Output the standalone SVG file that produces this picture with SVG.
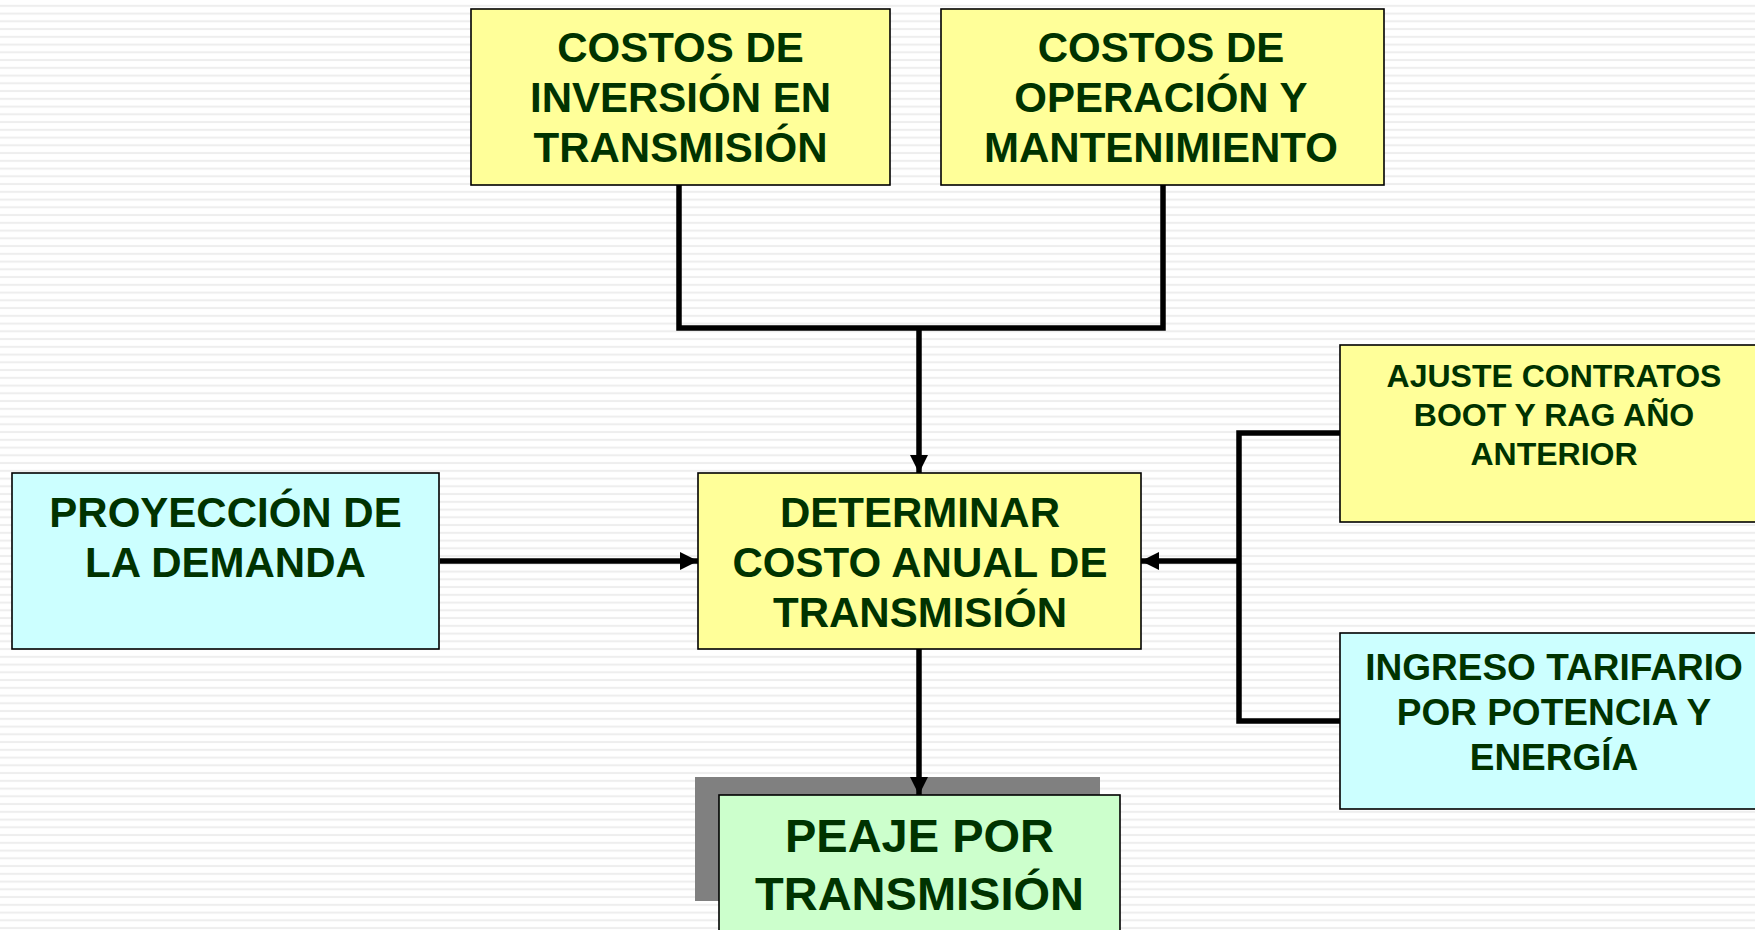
<svg xmlns="http://www.w3.org/2000/svg" width="1755" height="930" viewBox="0 0 1755 930">
<defs>
<pattern id="stripes" x="0" y="0" width="20" height="7.75" patternUnits="userSpaceOnUse">
<rect x="0" y="0" width="20" height="7.75" fill="#ffffff"/>
<rect x="0" y="4.8" width="20" height="2" fill="#eeeeee"/>
</pattern>
<marker id="arr" viewBox="0 0 10 10" refX="10" refY="5" markerUnits="userSpaceOnUse" markerWidth="19" markerHeight="18" orient="auto">
<path d="M0,0 L10,5 L0,10 z" fill="#000"/>
</marker>
<style>
.box{stroke:#000;stroke-width:1.6}
.y{fill:#ffff99}
.c{fill:#ccffff}
.g{fill:#ccffcc}
.t{font-family:"Liberation Sans",Arial,sans-serif;font-weight:bold;fill:#003300;text-anchor:middle}
.con{fill:none;stroke:#000;stroke-width:5.5}
</style>
</defs>
<rect x="0" y="0" width="1755" height="930" fill="url(#stripes)"/>

<g id="node-inversion">
<rect class="box y" x="471" y="9" width="419" height="176"/>
<text class="t" font-size="42" x="680.5" y="62">COSTOS DE</text>
<text class="t" font-size="42" x="680.5" y="112">INVERSIÓN EN</text>
<text class="t" font-size="42" x="680.5" y="162">TRANSMISIÓN</text>
</g>

<g id="node-operacion">
<rect class="box y" x="941" y="9" width="443" height="176"/>
<text class="t" font-size="42" x="1161" y="62">COSTOS DE</text>
<text class="t" font-size="42" x="1161" y="112">OPERACIÓN Y</text>
<text class="t" font-size="42" x="1161" y="162">MANTENIMIENTO</text>
</g>

<g id="node-demanda">
<rect class="box c" x="12" y="473" width="427" height="176"/>
<text class="t" font-size="42" x="225.5" y="527">PROYECCIÓN DE</text>
<text class="t" font-size="42" x="225.5" y="577">LA DEMANDA</text>
</g>

<g id="node-determinar">
<rect class="box y" x="698" y="473" width="443" height="176"/>
<text class="t" font-size="42" x="920" y="527">DETERMINAR</text>
<text class="t" font-size="42" x="920" y="577">COSTO ANUAL DE</text>
<text class="t" font-size="42" x="920" y="627">TRANSMISIÓN</text>
</g>

<g id="node-ajuste">
<rect class="box y" x="1340" y="345" width="430" height="177"/>
<text class="t" font-size="32" x="1554" y="387">AJUSTE CONTRATOS</text>
<text class="t" font-size="32" x="1554" y="426">BOOT Y RAG AÑO</text>
<text class="t" font-size="32" x="1554" y="465">ANTERIOR</text>
</g>

<g id="node-ingreso">
<rect class="box c" x="1340" y="633" width="430" height="176"/>
<text class="t" font-size="37" x="1554" y="680">INGRESO TARIFARIO</text>
<text class="t" font-size="37" x="1554" y="725">POR POTENCIA Y</text>
<text class="t" font-size="37" x="1554" y="770">ENERGÍA</text>
</g>

<g id="node-peaje">
<rect x="695" y="777" width="405" height="124" fill="#808080"/>
<rect class="box g" x="719" y="795" width="401" height="150"/>
<text class="t" font-size="47" x="919.5" y="852">PEAJE POR</text>
<text class="t" font-size="47" x="919.5" y="910">TRANSMISIÓN</text>
</g>

<g id="connectors">
<polyline class="con" points="679,185 679,328 1163,328 1163,185"/>
<line class="con" x1="919" y1="328" x2="919" y2="473" marker-end="url(#arr)"/>
<line class="con" x1="440" y1="561" x2="698" y2="561" marker-end="url(#arr)"/>
<polyline class="con" points="1340,433 1239,433 1239,721 1340,721"/>
<line class="con" x1="1239" y1="561" x2="1141" y2="561" marker-end="url(#arr)"/>
<line class="con" x1="919" y1="649" x2="919" y2="795" marker-end="url(#arr)"/>
</g>
</svg>
